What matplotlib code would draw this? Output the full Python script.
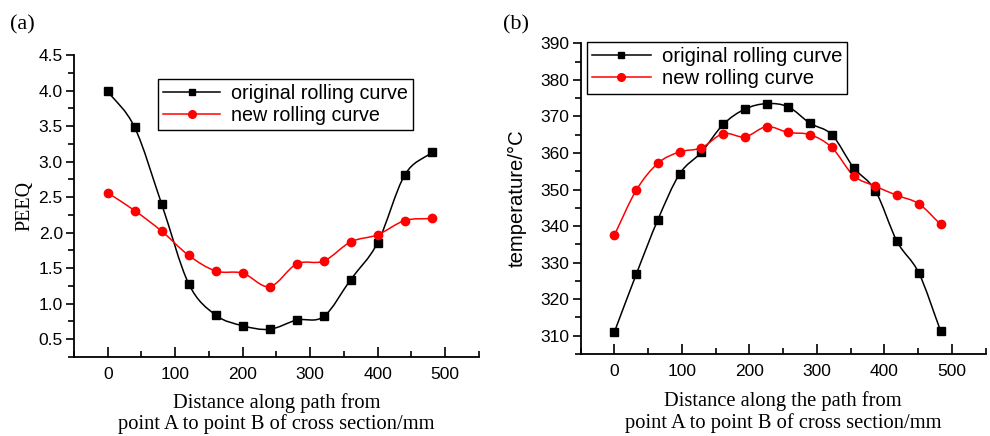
import numpy as np
import matplotlib
matplotlib.use("Agg")
from matplotlib import pyplot as plt
from matplotlib.path import Path
from matplotlib.patches import PathPatch
from matplotlib.lines import Line2D
from matplotlib.ticker import MultipleLocator

# (a) PEEQ along the path
dist_a = [0, 40, 80, 120, 160, 200, 240, 280, 320, 360, 400, 440, 480]
peeq_orig = [3.99, 3.48, 2.40, 1.28, 0.84, 0.69, 0.64, 0.77, 0.82, 1.34, 1.86, 2.81, 3.13]
peeq_new = [2.56, 2.31, 2.02, 1.68, 1.46, 1.43, 1.24, 1.56, 1.60, 1.87, 1.97, 2.17, 2.20]

# (b) temperature along the path
dist_b = [0, 32.2, 64.4, 96.6, 128.8, 161, 193.2, 225.4, 257.6, 289.8, 322, 354.2,
          386.4, 418.6, 450.8, 483]
temp_orig = [311.1, 326.8, 341.8, 354.3, 360.2, 367.8, 372.0, 373.5, 372.6, 368.1,
             365.0, 356.0, 349.7, 335.8, 327.2, 311.4]
temp_new = [337.6, 349.8, 357.2, 360.3, 361.4, 365.3, 364.4, 367.2, 365.6, 365.0,
            361.5, 353.8, 350.9, 348.4, 346.1, 340.5]

lbl_orig = "original rolling curve"
lbl_new = "new rolling curve"

SANS = ["Liberation Sans", "DejaVu Sans"]
SERIF = ["Liberation Serif", "DejaVu Serif"]
plt.rcParams['font.family'] = SANS


def smooth_path(x, y):
    # catmull-rom tangents turned into bezier segments (drawn by matplotlib)
    x = np.asarray(x, float)
    y = np.asarray(y, float)
    n = len(x)
    verts = [(x[0], y[0])]
    codes = [Path.MOVETO]
    mx = np.gradient(x)
    my = np.gradient(y)
    for i in range(n - 1):
        verts.append((x[i] + mx[i] / 3, y[i] + my[i] / 3))
        verts.append((x[i + 1] - mx[i + 1] / 3, y[i + 1] - my[i + 1] / 3))
        verts.append((x[i + 1], y[i + 1]))
        codes += [Path.CURVE4] * 3
    return Path(verts, codes)


def draw_series(ax, x, y, color, marker, ms):
    ax.add_patch(PathPatch(smooth_path(x, y), fill=False, edgecolor=color, lw=1.1, zorder=2))
    ax.plot(x, y, linestyle="none", marker=marker, color=color, ms=ms, zorder=3)


def style_axes(ax):
    ax.spines['top'].set_visible(False)
    ax.spines['right'].set_visible(False)
    ax.spines['left'].set_linewidth(1.3)
    ax.spines['bottom'].set_linewidth(1.3)
    ax.xaxis.set_major_locator(MultipleLocator(100))
    ax.xaxis.set_minor_locator(MultipleLocator(50))
    ax.tick_params(axis='x', which='major', direction='in', length=7, width=1.2, labelsize=12.5, pad=7)
    ax.tick_params(axis='x', which='minor', direction='in', length=4, width=1.2)
    ax.tick_params(axis='y', which='major', direction='out', length=6, width=1.2, labelsize=12.5, pad=2)
    ax.tick_params(axis='y', which='minor', direction='out', length=4, width=1.2)
    ax.set_xlim(-50, 550)


fig = plt.figure(figsize=(9.9, 4.36), dpi=100)

# panel (a)
ax1 = fig.add_axes([0.0747, 0.1812, 0.4091, 0.6927])
draw_series(ax1, dist_a, peeq_orig, "black", "s", 5.5)
draw_series(ax1, dist_a, peeq_new, "red", "o", 6)
style_axes(ax1)
ax1.set_ylim(0.25, 4.5)
ax1.yaxis.set_major_locator(MultipleLocator(0.5))
ax1.yaxis.set_minor_locator(MultipleLocator(0.25))
ax1.yaxis.set_major_formatter(matplotlib.ticker.FormatStrFormatter('%.1f'))
ax1.set_xlabel("Distance along path from\npoint A to point B of cross section/mm",
               family=SERIF, fontsize=14.8, linespacing=1.1, labelpad=8)
ax1.set_ylabel("PEEQ", family=SERIF, fontsize=14.4, labelpad=3)

# panel (b)
ax2 = fig.add_axes([0.5866, 0.188, 0.4091, 0.7127])
draw_series(ax2, dist_b, temp_orig, "black", "s", 5.5)
draw_series(ax2, dist_b, temp_new, "red", "o", 6)
style_axes(ax2)
ax2.set_ylim(305, 390)
ax2.yaxis.set_major_locator(MultipleLocator(10))
ax2.yaxis.set_minor_locator(MultipleLocator(5))
ax2.set_xlabel("Distance along the path from\npoint A to point B of cross section/mm",
               family=SERIF, fontsize=14.8, linespacing=1.1, labelpad=9)
ax2.set_ylabel("temperature/\u00b0C", fontsize=14.6, labelpad=10)

handles = [Line2D([], [], color="black", marker="s", ms=5, lw=1.1),
           Line2D([], [], color="red", marker="o", ms=5.5, lw=1.1)]
for ax, anchor, fs in [(ax1, (0.208, 0.92), 14.2), (ax2, (0.015, 1.003), 14.6)]:
    leg = ax.legend(handles, [lbl_orig, lbl_new], loc="upper left", bbox_to_anchor=anchor,
                    fontsize=fs, frameon=True, fancybox=False, framealpha=1,
                    edgecolor="black", handlelength=2.9, handletextpad=0.55,
                    borderpad=0.25, labelspacing=0.15, borderaxespad=0)
    leg.get_frame().set_linewidth(1.0)

fig.text(0.010, 0.932, "(a)", family=SERIF, fontsize=16)
fig.text(0.508, 0.932, "(b)", family=SERIF, fontsize=16)

fig.savefig("out.png", dpi=100)
